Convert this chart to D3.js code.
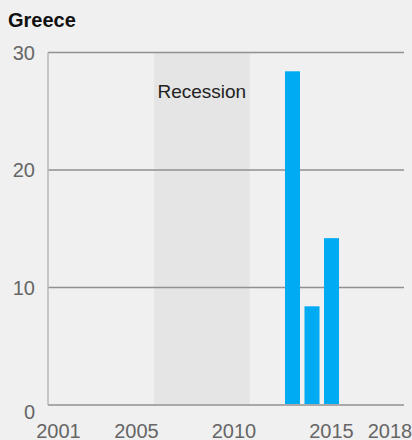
<!DOCTYPE html>
<html>
<head>
<meta charset="utf-8">
<script src="https://cdn.jsdelivr.net/npm/d3@7"></script>
<style>
  html, body { margin: 0; padding: 0; background: #f0f0f0; }
  svg { display: block; font-family: "Liberation Sans", Arial, sans-serif; }
</style>
</head>
<body>
<div id="chart"></div>
<script>
// chart data
var years = d3.range(2001, 2019);
var barYears = [2013, 2014, 2015];
var barValues = [28.4, 8.4, 14.2];
var yTicks = [0, 10, 20, 30];
var xTickYears = [2001, 2005, 2010, 2015, 2018];
var recession = [2005.9, 2010.8];

var w = 412, h = 440;
// note: "top" is taken by window.top, so use plot* names
var plotLeft = 48, plotRight = 404, plotTop = 52.5, plotBottom = 405;

var svg = d3.select("#chart").append("svg")
    .attr("width", w)
    .attr("height", h);

// scales
var x = d3.scaleBand()
    .domain(years)
    .range([48.75, 399.75])
    .paddingInner(0.23)
    .paddingOuter(0.115);

// linear year scale for the shaded band
var xYear = d3.scaleLinear()
    .domain([2000.5, 2018.5])
    .range([48.75, 399.75]);

var y = d3.scaleLinear()
    .domain([0, 30])
    .range([plotBottom, plotTop]);

// recession shading
svg.append("rect")
    .attr("x", xYear(recession[0]))
    .attr("y", y(30))
    .attr("width", xYear(recession[1]) - xYear(recession[0]))
    .attr("height", y(0) - y(30))
    .style("fill", "#e5e5e5");

svg.append("text")
    .attr("x", (xYear(recession[0]) + xYear(recession[1])) / 2)
    .attr("y", 98)
    .attr("text-anchor", "middle")
    .attr("font-size", "19px")
    .style("fill", "#222")
    .text("Recession");

// gridlines (not the baseline)
svg.selectAll(".grid")
    .data(yTicks.filter(d => d > 0))
    .enter()
    .append("line")
    .attr("class", "grid")
    .attr("x1", plotLeft)
    .attr("x2", plotRight)
    .attr("y1", d => y(d))
    .attr("y2", d => y(d))
    .style("stroke", "#919191")
    .style("stroke-width", 1.5);

// left axis line
svg.append("line")
    .attr("x1", plotLeft)
    .attr("x2", plotLeft)
    .attr("y1", y(30))
    .attr("y2", y(0))
    .style("stroke", "#b8b8b8")
    .style("stroke-width", 1.5);

// bars
svg.selectAll(".bar")
    .data(barYears)
    .enter()
    .append("rect")
    .attr("class", "bar")
    .attr("x", d => x(d))
    .attr("width", x.bandwidth())
    .attr("y", (d, i) => y(barValues[i]))
    .attr("height", (d, i) => y(0) - y(barValues[i]))
    .style("fill", "#00abf3");

// baseline
svg.append("line")
    .attr("x1", plotLeft)
    .attr("x2", plotRight)
    .attr("y1", y(0))
    .attr("y2", y(0))
    .style("stroke", "#a9a9a9")
    .style("stroke-width", 2);

// y tick labels
svg.selectAll(".ytick")
    .data(yTicks)
    .enter()
    .append("text")
    .attr("class", "ytick")
    .attr("x", 35)
    .attr("y", d => y(d) + (d === 0 ? 14 : 7))
    .attr("text-anchor", "end")
    .attr("font-size", "20px")
    .style("fill", "#666")
    .text(d => d);

// x tick labels
svg.selectAll(".xtick")
    .data(xTickYears)
    .enter()
    .append("text")
    .attr("class", "xtick")
    .attr("x", d => x(d) + x.bandwidth() / 2)
    .attr("y", 437.5)
    .attr("text-anchor", "middle")
    .attr("font-size", "20px")
    .style("fill", "#666")
    .text(d => d);

// title
svg.append("text")
    .attr("x", 8)
    .attr("y", 27)
    .attr("font-size", "20px")
    .attr("font-weight", "bold")
    .style("fill", "#111")
    .text("Greece");
</script>
</body>
</html>
